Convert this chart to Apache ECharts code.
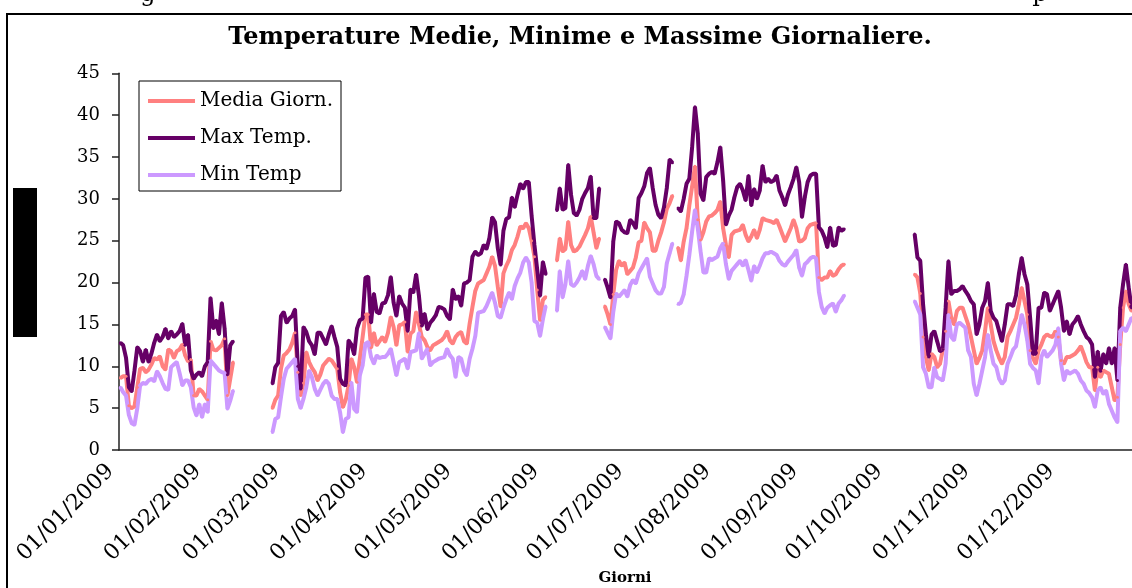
<!DOCTYPE html>
<html><head><meta charset="utf-8">
<script src="https://cdn.jsdelivr.net/npm/echarts@6/dist/echarts.min.js"></script>
<style>html,body{margin:0;padding:0;background:#fff}#c{width:1132px;height:588px}</style>
</head><body><div id="c"></div>
<script>
const YEAR = 2009;
const chartTitle = 'Temperature Medie, Minime e Massime Giornaliere.';
const xAxisTitle = 'Giorni';
const seriesNames = ['Media Giorn.', 'Max Temp.', 'Min Temp'];
const monthTickLabels = ['01/01/2009','01/02/2009','01/03/2009','01/04/2009','01/05/2009','01/06/2009',
  '01/07/2009','01/08/2009','01/09/2009','01/10/2009','01/11/2009','01/12/2009'];
const yMin = 0, yMax = 45, yStep = 5;

// first day-of-year index of each recorded stretch (gaps between them have no data)
const segmentStartDays = [0, 54, 155, 172, 198, 282];

const mediaSegments = [
  [8.6,8.8,8.8,5.3,5.0,5.2,7.5,9.7,9.8,9.3,9.6,10.2,11.0,10.8,11.2,10.0,9.6,12.0,11.8,11.0,11.8,12.0,12.6,11.3,10.6,10.8,6.5,6.5,7.3,7.0,6.5,6.0,13.0,12.0,11.9,12.2,12.5,13.3,6.5,8.5,10.5],
  [5.0,6.0,6.5,9.7,11.3,11.6,12.0,12.8,14.0,9.3,6.5,8.0,11.7,10.5,9.8,9.3,8.3,9.0,10.1,10.5,10.9,10.7,10.2,9.7,6.9,5.1,6.0,7.7,10.9,9.9,8.1,10.9,13.5,16.2,16.2,12.2,14.0,12.5,13.0,13.5,12.9,14.0,15.9,14.7,12.5,14.9,15.0,15.3,
   11.7,13.9,14.2,16.5,15.0,13.5,13.1,12.3,11.9,12.5,12.7,12.9,13.1,13.5,14.2,13.1,12.7,13.5,13.9,14.1,13.0,12.7,15.1,17.1,19.0,19.9,20.1,20.3,21.1,21.9,23.1,22.0,19.5,17.1,21.1,22.0,22.7,23.9,24.5,25.5,26.7,26.5,27.1,26.5,25.0,23.1,19.1,15.5,17.9,18.3],
  [22.6,25.3,23.7,24.0,27.3,24.5,23.7,23.9,24.3,25.0,25.7,26.5,27.9,26.0,24.1,25.3],
  [17.2,16.2,15.0,18.6,21.5,22.6,22.0,22.4,21.0,21.4,21.8,23.0,24.8,25.0,27.2,26.5,26.0,23.8,23.8,25.0,26.0,27.2,28.8,29.5,30.4],
  [24.2,22.6,24.9,26.5,29.2,31.5,33.9,27.5,25.1,26.0,27.3,27.9,28.0,28.3,28.7,29.7,26.5,24.5,23.0,25.7,26.1,26.2,26.3,26.9,25.7,24.9,25.5,26.3,25.3,26.3,27.7,27.5,27.4,27.3,27.1,27.5,26.7,25.8,24.9,25.7,26.5,27.5,26.5,24.9,25.0,25.3,26.5,26.9,27.0,27.1,20.6,20.3,20.6,20.6,21.4,20.8,21.0,21.6,22.0,22.2],
  [21.0,20.6,18.7,13.5,11.1,9.5,11.5,11.1,9.9,10.3,12.0,14.2,17.8,15.8,15.0,16.6,17.0,17.0,16.0,15.0,13.5,11.9,10.3,11.0,11.9,14.2,17.0,15.0,13.0,11.9,11.0,10.3,11.1,13.5,14.2,15.0,15.8,17.4,19.4,17.8,16.2,11.9,11.0,10.3,11.9,12.6,13.5,13.8,13.6,13.5,14.2,13.5,10.7,10.3,11.1,11.1,11.3,11.5,11.9,12.4,11.5,10.5,9.9,9.9,7.1,9.9,8.7,9.5,9.3,9.1,7.5,5.9,6.3,12.6,17.0,19.0,17.4,16.6]
];

const maxSegments = [
  [12.8,12.5,11.0,7.5,7.0,9.5,12.3,11.8,10.5,12.0,10.5,11.5,12.8,13.8,13.0,13.5,14.5,13.3,14.2,13.5,13.8,14.2,15.1,12.5,13.8,9.5,8.5,9.0,9.3,8.8,10.0,10.5,18.2,14.5,15.5,13.8,17.6,14.5,9.0,12.5,13.0],
  [7.9,9.9,10.4,16.0,16.5,15.2,15.7,16.0,16.8,10.0,7.3,14.7,14.1,13.0,12.5,11.4,14.0,14.0,13.3,12.6,13.8,14.8,13.5,12.3,8.5,7.9,7.7,13.1,12.6,11.4,14.5,15.5,15.7,20.6,20.7,15.2,18.7,16.5,16.3,17.5,17.6,18.5,20.7,17.6,16.0,
   18.4,17.5,17.0,14.2,19.2,18.8,21.0,18.4,14.8,16.3,14.4,15.2,15.6,16.1,17.1,17.0,16.8,16.0,15.6,19.2,18.0,18.4,17.2,19.9,20.0,20.3,23.1,23.7,23.3,23.5,24.5,24.0,25.3,27.8,27.2,24.1,22.1,26.2,27.6,27.8,30.2,29.0,30.5,31.8,31.2,32.0,32.0,28.0,24.5,21.5,18.4,22.5,21.0],
  [28.6,31.3,28.7,28.9,34.1,30.5,28.3,28.0,28.7,30.0,30.7,31.3,32.7,27.7,27.7,31.3],
  [20.4,19.4,18.2,24.9,27.3,27.1,26.3,26.0,25.9,27.5,27.1,26.5,30.1,30.7,31.5,33.1,33.7,31.3,29.3,28.1,27.7,29.0,31.3,34.7,34.3],
  [28.9,28.5,30.0,31.8,32.4,36.2,41.0,37.8,30.6,29.8,32.6,33.0,33.2,33.0,34.4,36.2,32.2,26.9,28.0,28.7,30.2,31.4,31.8,31.0,29.8,32.8,29.2,31.2,30.0,31.0,34.0,32.0,32.4,32.0,32.2,32.8,31.0,30.2,29.2,30.5,31.4,32.4,33.8,32.0,27.8,30.2,32.0,32.8,33.0,33.0,26.6,26.2,25.4,24.2,26.6,24.4,24.5,26.6,26.2,26.4],
  [25.8,23.0,22.6,17.4,13.8,11.1,13.8,14.2,13.0,11.8,12.0,17.0,22.6,18.6,19.0,19.0,19.2,19.6,19.0,18.5,17.8,17.4,13.8,15.0,17.0,17.8,20.0,16.6,15.8,15.4,14.2,13.0,15.0,17.4,17.4,17.2,18.5,21.0,23.0,21.0,19.8,15.8,11.5,11.5,17.0,17.0,18.8,18.6,16.6,17.4,18.2,19.0,17.0,14.2,15.4,13.8,15.0,15.4,16.0,15.0,14.2,13.5,13.2,12.6,8.7,11.8,9.4,11.5,10.3,12.2,10.3,12.2,8.3,17.0,19.8,22.2,19.4,17.0]
];

const minSegments = [
  [7.5,6.9,6.5,4.2,3.2,3.0,5.0,7.7,8.0,7.9,8.3,8.5,8.2,9.4,8.8,8.0,7.3,7.2,9.9,10.2,10.5,9.2,7.7,8.3,8.3,7.5,5.1,4.1,5.5,3.9,5.5,4.5,10.7,10.3,9.9,9.5,9.3,9.2,4.9,5.9,7.1],
  [2.1,3.7,3.9,6.3,8.5,9.7,10.1,10.5,10.9,6.1,5.0,6.1,7.5,9.5,8.7,7.3,6.5,7.2,7.9,8.3,7.9,6.5,6.1,6.1,4.5,2.1,3.7,3.9,8.1,4.9,4.5,8.9,10.1,12.7,12.9,11.1,10.3,11.3,11.0,11.1,11.1,11.5,12.1,10.5,8.9,10.5,10.7,10.9,
   9.7,11.7,11.8,11.9,14.0,10.9,11.5,12.1,10.1,10.5,10.7,10.9,11.0,11.1,12.1,11.3,10.9,8.7,11.1,10.9,9.5,8.9,10.9,12.1,13.6,16.4,16.5,16.6,17.2,18.0,18.8,17.6,16.0,15.8,17.0,18.0,18.8,18.0,19.6,20.5,21.2,22.4,23.0,22.4,20.0,15.4,15.2,13.6,15.6,17.2],
  [16.6,21.4,18.2,19.8,22.6,19.8,19.6,20.0,20.6,21.4,20.4,22.0,23.2,22.2,20.8,20.4],
  [14.7,14.0,13.3,16.5,18.7,18.3,18.7,19.1,18.3,19.7,20.3,19.9,21.1,21.7,22.3,22.9,20.7,19.9,19.1,18.7,18.7,19.5,22.3,23.5,24.7],
  [17.4,17.6,18.6,20.8,23.3,26.1,28.7,26.5,23.7,21.2,21.2,22.9,22.7,22.9,23.1,24.1,24.7,22.2,20.4,21.4,21.8,22.2,22.6,22.0,22.7,21.5,20.2,22.0,21.2,22.0,22.9,23.5,23.5,23.7,23.5,23.3,22.6,22.2,22.0,22.5,22.9,23.3,23.9,21.8,20.8,22.2,22.5,22.9,23.1,22.9,18.9,17.1,16.3,17.0,17.3,17.5,16.5,17.5,17.9,18.5],
  [17.8,17.0,16.2,9.9,9.1,7.5,7.5,9.9,8.7,8.5,8.3,10.3,16.2,13.5,13.1,15.0,15.2,14.9,14.6,11.9,11.1,7.9,6.5,7.9,9.5,11.1,13.8,11.9,10.3,9.9,8.5,7.9,8.3,10.3,11.1,12.0,12.4,14.2,16.2,15.0,13.1,10.3,9.8,9.5,7.9,11.1,11.9,11.1,11.5,11.9,12.6,14.6,10.3,8.3,9.5,9.1,9.3,9.5,9.1,8.3,7.9,7.1,6.8,6.3,5.1,7.1,7.5,6.7,7.1,5.5,4.7,3.9,3.3,14.2,14.6,14.2,15.0,15.8]
];

const seriesColors = ['#FF8080', '#660066', '#CC99FF'];

// day categories for the year
const categories = [];
for (let d = 0; d < 365; d++) {
  const dt = new Date(Date.UTC(YEAR, 0, 1 + d));
  const dd = String(dt.getUTCDate()).padStart(2, '0');
  const mm = String(dt.getUTCMonth() + 1).padStart(2, '0');
  categories.push(dd + '/' + mm + '/' + dt.getUTCFullYear());
}
function buildDaily(segs) {
  const arr = new Array(categories.length).fill(null);
  segs.forEach((seg, i) => seg.forEach((v, j) => { arr[segmentStartDays[i] + j] = v; }));
  return arr;
}
const allSegs = [mediaSegments, maxSegments, minSegments];
const isMonthTick = (idx, val) => monthTickLabels.indexOf(val) >= 0;
const serif = 'DejaVu Serif';

const chart = echarts.init(document.getElementById('c'), null, {renderer: 'canvas'});
chart.setOption({
  animation: false,
  backgroundColor: '#fff',
  title: {
    text: chartTitle, left: 575, top: 21, textAlign: 'center',
    textStyle: {fontFamily: serif, fontWeight: 'bold', fontSize: 24, color: '#000'}
  },
  legend: {
    orient: 'vertical', left: 139, top: 81, padding: [10, 8, 6, 9], itemGap: 17,
    itemWidth: 47, itemHeight: 4, icon: 'rect', borderColor: '#000', borderWidth: 1,
    textStyle: {fontFamily: serif, fontSize: 20, color: '#000'},
    data: seriesNames
  },
  grid: {left: 119, top: 73.3, width: 1028, height: 376.7, outerBoundsMode: 'none', containLabel: false},
  xAxis: {
    type: 'category', data: categories, boundaryGap: true,
    axisLine: {lineStyle: {color: '#222', width: 1.5}},
    axisTick: {interval: isMonthTick, length: 7, lineStyle: {color: '#222', width: 1.5}},
    axisLabel: {interval: isMonthTick, rotate: 45, margin: 8, padding: [0, 14, 0, 0], fontFamily: serif, fontSize: 22, color: '#000'},
    splitLine: {show: false}
  },
  yAxis: {
    type: 'value', min: yMin, max: yMax, interval: yStep,
    axisLine: {show: true, lineStyle: {color: '#222', width: 1.5}},
    axisTick: {show: true, length: 7, lineStyle: {color: '#222', width: 1.5}},
    axisLabel: {margin: 19, fontFamily: serif, fontSize: 18, color: '#000'},
    splitLine: {show: false}
  },
  graphic: [
    {type: 'rect', shape: {x: 7, y: 14, width: 1140, height: 600}, style: {fill: 'none', stroke: '#000', lineWidth: 2}, silent: true},
    {type: 'rect', shape: {x: 13, y: 188, width: 24, height: 149}, style: {fill: '#000'}, silent: true},
    {type: 'text', x: 625, y: 571, style: {text: xAxisTitle, fontFamily: serif, fontWeight: 'bold', fontSize: 15, fill: '#000', align: 'center', verticalAlign: 'top'}},
    {type: 'text', x: 148, y: -17, style: {text: 'g', fontFamily: serif, fontSize: 24, fill: '#000', align: 'center', verticalAlign: 'top'}},
    {type: 'text', x: 1040, y: -17, style: {text: 'p', fontFamily: serif, fontSize: 24, fill: '#000', align: 'center', verticalAlign: 'top'}}
  ],
  series: seriesNames.map((name, i) => ({
    name: name, type: 'line', data: buildDaily(allSegs[i]),
    connectNulls: false, symbol: 'circle', symbolSize: 3, showAllSymbol: true,
    lineStyle: {width: 4, color: seriesColors[i]},
    itemStyle: {color: seriesColors[i]},
    emphasis: {disabled: true}
  }))
});
</script>
</body></html>
